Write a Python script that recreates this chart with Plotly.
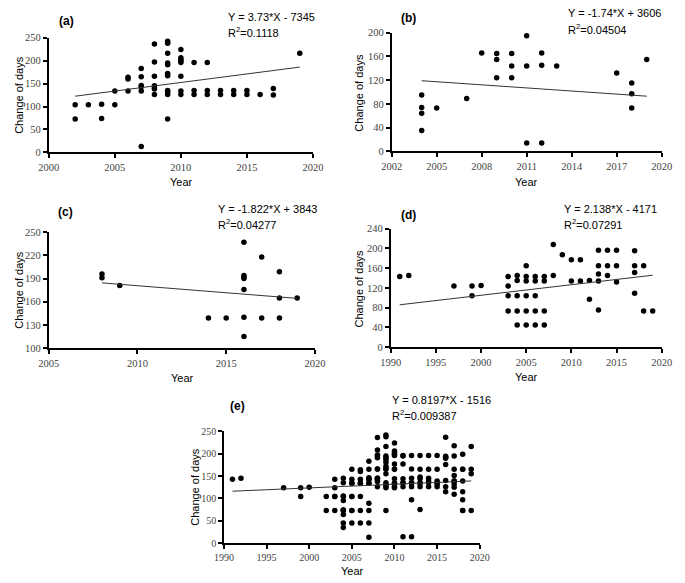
import plotly.graph_objects as go

# ---------------- data ----------------
# (a)
a_years = [2002, 2002, 2003, 2004, 2004, 2005, 2005, 2006, 2006, 2006,
           2007, 2007, 2007, 2007, 2007, 2007,
           2008, 2008, 2008, 2008, 2008, 2008, 2008,
           2009, 2009, 2009, 2009, 2009, 2009, 2009, 2009, 2009, 2009, 2009,
           2010, 2010, 2010, 2010, 2010, 2010, 2010, 2010,
           2011, 2011, 2011, 2012, 2012, 2012, 2013, 2013, 2014, 2014,
           2015, 2015, 2016, 2017, 2017, 2019]
a_days = [104, 73, 104, 105, 74, 134, 104, 164, 160, 134,
          183, 165, 146, 143, 134, 13,
          236, 197, 166, 145, 141, 138, 126,
          242, 238, 216, 195, 191, 172, 167, 135, 131, 126, 73,
          224, 206, 202, 199, 196, 166, 134, 126,
          196, 135, 126, 196, 135, 126, 135, 126, 135, 126,
          135, 126, 126, 139, 125, 216]
# (b)
b_years = [2004, 2004, 2004, 2004, 2005, 2007, 2008, 2009, 2009, 2009,
           2010, 2010, 2010, 2011, 2011, 2011, 2012, 2012, 2012, 2013,
           2017, 2018, 2018, 2018, 2019]
b_days = [95, 74, 64, 35, 73, 89, 166, 165, 155, 124,
          165, 144, 124, 195, 144, 14, 166, 145, 14, 144,
          132, 115, 97, 73, 155]
# (c)
c_years = [2008, 2008, 2009, 2014, 2015, 2016, 2016, 2016, 2016, 2016, 2016, 2016,
           2017, 2017, 2018, 2018, 2018, 2019]
c_days = [196, 191, 181, 139, 139, 237, 194, 192, 190, 176, 140, 115,
          218, 139, 199, 165, 139, 165]
# (d)
d_years = [1991, 1992, 1997, 1999, 1999, 2000,
           2003, 2003, 2003, 2003,
           2004, 2004, 2004, 2004, 2004,
           2005, 2005, 2005, 2005, 2005, 2005,
           2006, 2006, 2006, 2006, 2006,
           2007, 2007, 2007, 2007,
           2008, 2008, 2009, 2010, 2010, 2011, 2011, 2012, 2012,
           2013, 2013, 2013, 2013, 2013,
           2014, 2014, 2014, 2015, 2015, 2015,
           2017, 2017, 2017, 2017, 2018, 2018, 2019]
d_days = [143, 145, 124, 124, 104, 125,
          143, 124, 104, 73,
          145, 135, 104, 73, 45,
          165, 143, 134, 104, 73, 45,
          143, 134, 104, 73, 45,
          143, 134, 73, 45,
          208, 145, 187, 177, 134, 177, 134, 135, 97,
          196, 165, 148, 134, 75,
          196, 165, 145, 196, 165, 132,
          195, 165, 151, 109, 165, 73, 73]
# (e) pooled data of all sites
e_years = a_years + b_years + c_years + d_years
e_days = a_days + b_days + c_days + d_days

labels = ["(a)", "(b)", "(c)", "(d)", "(e)"]
slopes = [3.73, -1.74, -1.822, 2.138, 0.8197]
intercepts = [-7345, 3606, 3843, -4171, -1516]
equations = ["Y = 3.73*X - 7345", "Y = -1.74*X + 3606", "Y = -1.822*X + 3843",
             "Y = 2.138*X - 4171", "Y = 0.8197*X - 1516"]
r2_texts = ["0.1118", "0.04504", "0.04277", "0.07291", "0.009387"]

x_ticks = [[2000, 2005, 2010, 2015, 2020],
           [2002, 2005, 2008, 2011, 2014, 2017, 2020],
           [2005, 2010, 2015, 2020],
           [1990, 1995, 2000, 2005, 2010, 2015, 2020],
           [1990, 1995, 2000, 2005, 2010, 2015, 2020]]
y_ticks = [[0, 50, 100, 150, 200, 250],
           [0, 40, 80, 120, 160, 200],
           [100, 130, 160, 190, 220, 250],
           [0, 40, 80, 120, 160, 200, 240],
           [0, 50, 100, 150, 200, 250]]

# ---------------- layout (pixels) ----------------
W, H = 685, 583
boxes = [(39, 312, 32.3, 149.5),
         (393.3, 672.3, 27.3, 148.3),
         (39, 314, 231, 349.3),
         (392.3, 672.3, 227.3, 348.3),
         (220, 484.3, 434.3, 548.3)]
tick_sizes = [10.5, 10.5, 10.5, 10.5, 10]
lab_pos = [(57, 15), (411, 12), (56, 210), (411, 213), (234, 408)]
eq_pos = [(222, 11, 27), (573, 7, 23), (212, 207, 223), (569, 207, 223), (392, 402, 418)]
ytitle_pos = [(8, 91), (360, 88), (8, 290), (360, 288), (190, 491)]
xtitle_pos = [(176, 180), (533, 180), (177, 380), (533, 379), (353, 577)]

datasets = [(a_years, a_days), (b_years, b_days), (c_years, c_days),
            (d_years, d_days), (e_years, e_days)]

fig = go.Figure()
annotations = []
textfont = dict(family="Liberation Sans", size=11, color="black")

def px(x):
    return x / W

def py(y):
    return 1 - y / H

for i, (xs, ys) in enumerate(datasets):
    n = "" if i == 0 else str(i + 1)
    xa, ya = "x" + n, "y" + n
    fig.add_trace(go.Scatter(x=xs, y=ys, mode="markers", xaxis=xa, yaxis=ya,
                             marker=dict(color="black", size=5.5),
                             cliponaxis=False, showlegend=False))
    x0, x1 = min(xs), max(xs)
    fig.add_trace(go.Scatter(x=[x0, x1],
                             y=[slopes[i] * x0 + intercepts[i], slopes[i] * x1 + intercepts[i]],
                             mode="lines", xaxis=xa, yaxis=ya,
                             line=dict(color="#333", width=1), showlegend=False))
    l, r, t, b = boxes[i]
    axcommon = dict(showgrid=False, zeroline=False, showline=True, linecolor="black",
                    linewidth=1.6, ticks="outside", ticklen=4, tickwidth=1.5,
                    tickcolor="black",
                    tickfont=dict(family="Liberation Serif", size=tick_sizes[i], color="#444"),
                    tickmode="array")
    fig.update_layout(**{
        "xaxis" + n: dict(domain=[px(l), px(r)], anchor=ya,
                          range=[x_ticks[i][0], x_ticks[i][-1]],
                          tickvals=x_ticks[i], **axcommon),
        "yaxis" + n: dict(domain=[py(b), py(t)], anchor=xa,
                          range=[y_ticks[i][0], y_ticks[i][-1]],
                          tickvals=y_ticks[i], **axcommon),
    })
    annotations.append(dict(x=px(lab_pos[i][0]), y=py(lab_pos[i][1]), xref="paper", yref="paper",
                            text="<b>" + labels[i] + "</b>", showarrow=False,
                            xanchor="center", yanchor="middle",
                            font=dict(family="Liberation Sans", size=12, color="black")))
    annotations.append(dict(x=px(eq_pos[i][0]), y=py(eq_pos[i][1]), xref="paper", yref="paper",
                            text=equations[i], showarrow=False, xanchor="left", yanchor="middle",
                            font=textfont))
    annotations.append(dict(x=px(eq_pos[i][0]), y=py(eq_pos[i][2]), xref="paper", yref="paper",
                            text="R<sup>2</sup>=" + r2_texts[i], showarrow=False,
                            xanchor="left", yanchor="middle", font=textfont))
    annotations.append(dict(x=px(ytitle_pos[i][0]), y=py(ytitle_pos[i][1]), xref="paper", yref="paper",
                            text="Change of days", textangle=-90, showarrow=False,
                            xanchor="center", yanchor="middle", font=textfont))
    annotations.append(dict(x=px(xtitle_pos[i][0]), y=py(xtitle_pos[i][1]), xref="paper", yref="paper",
                            text="Year", showarrow=False, xanchor="center", yanchor="middle",
                            font=textfont))

fig.update_layout(width=W, height=H, margin=dict(l=0, r=0, t=0, b=0),
                  plot_bgcolor="white", paper_bgcolor="white",
                  annotations=annotations, showlegend=False)

fig.write_html("out.html", config={"displayModeBar": False},
               post_script="document.body.style.margin='0';document.body.style.padding='0';")
